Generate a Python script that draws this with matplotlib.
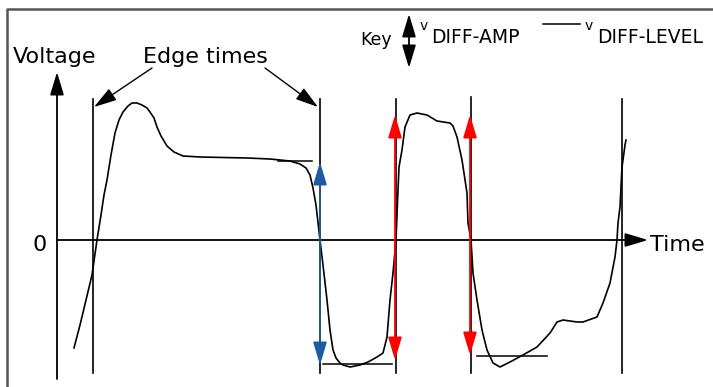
import matplotlib
matplotlib.use("Agg")
import matplotlib.pyplot as plt

# ---- data (pixel-space diagram coordinates) ----
wave_x = [74, 80, 86, 92, 97, 101, 104, 107, 111, 115, 119, 123, 128, 132, 137, 142, 147, 150,
          154, 157, 161, 167, 174, 183, 200, 247, 270, 290, 300, 306, 310, 313, 316, 320, 323,
          327, 330, 333, 336, 340, 343, 350, 360, 368, 377, 383, 387, 390, 393, 396, 398, 399,
          402, 405, 410, 417, 427, 437, 450, 453, 457, 462, 467, 468, 471, 473, 477, 482, 487,
          493, 500, 510, 523, 537, 550, 557, 563, 577, 583, 597, 603, 610, 615, 617, 618, 620,
          622, 623, 625, 626]
wave_y = [348, 325, 300, 275, 240, 215, 195, 180, 155, 133, 120, 112, 106, 103, 103, 105, 108, 112,
          118, 127, 136, 146, 152, 156, 157, 158, 159, 161, 164, 168, 175, 188, 205, 240, 265,
          300, 330, 350, 358, 363, 365, 367, 365, 362, 357, 353, 337, 300, 273, 240, 190, 167,
          150, 127, 115, 113, 115, 121, 123, 126, 137, 160, 193, 223, 240, 273, 300, 330, 350,
          363, 367, 362, 355, 347, 333, 322, 320, 322, 322, 317, 303, 283, 257, 240, 223, 207,
          167, 160, 145, 140]

edge_x = [93, 320, 396, 471, 622]
edge_top = [99, 99, 99, 97, 99]
edge_bottom = 373

level_x0 = [278, 323, 477]
level_x1 = [312, 392, 547]
level_y = [161, 364, 356]

amp_x = [320, 395, 470]
amp_top = [162, 115, 115]
amp_bottom = [365, 360, 355]
amp_colors = ["#1f5aa6", "#ff0000", "#ff0000"]

fig = plt.figure(figsize=(7.13, 3.87), dpi=100)
ax = fig.add_axes([0, 0, 1, 1])
ax.set_xlim(0, 713)
ax.set_ylim(387, 0)
ax.axis("off")

FONT = "DejaVu Sans"
HEAD = "head_length=1.0,head_width=0.3"

# frame
ax.plot([7, 7, 713], [387, 9, 9], color="#555555", lw=1.8, solid_capstyle="butt")

# axes
ax.annotate("", xy=(57, 72), xytext=(57, 379),
            arrowprops=dict(arrowstyle="-|>," + HEAD, color="black",
                            lw=1.3, shrinkA=0, shrinkB=0, mutation_scale=14))
ax.annotate("", xy=(648, 240), xytext=(57, 240),
            arrowprops=dict(arrowstyle="-|>," + HEAD, color="black",
                            lw=1.3, shrinkA=0, shrinkB=0, mutation_scale=14))

# edge lines
for x, t in zip(edge_x, edge_top):
    ax.plot([x, x], [t, edge_bottom], color="black", lw=1.2)

# level lines
for x0, x1, y in zip(level_x0, level_x1, level_y):
    ax.plot([x0, x1], [y, y], color="black", lw=1.1)

# waveform
ax.plot(wave_x, wave_y, color="black", lw=1.2)

# amplitude arrows
for x, t, b, c in zip(amp_x, amp_top, amp_bottom, amp_colors):
    ax.annotate("", xy=(x, t), xytext=(x, b),
                arrowprops=dict(arrowstyle="<|-|>," + HEAD, color=c,
                                lw=1.3, shrinkA=0, shrinkB=0, mutation_scale=14))

# edge-time pointers
ax.annotate("", xy=(94, 107), xytext=(152, 68),
            arrowprops=dict(arrowstyle="-|>," + HEAD, color="black",
                            lw=1.0, shrinkA=0, shrinkB=0, mutation_scale=14))
ax.annotate("", xy=(318, 107), xytext=(265, 68),
            arrowprops=dict(arrowstyle="-|>," + HEAD, color="black",
                            lw=1.0, shrinkA=0, shrinkB=0, mutation_scale=14))

# texts
ax.text(13, 63, "Voltage", fontsize=16, family=FONT, va="baseline", ha="left")
ax.text(143, 63, "Edge times", fontsize=16, family=FONT, va="baseline", ha="left")
ax.text(40, 251, "0", fontsize=16, family=FONT, va="baseline", ha="center")
ax.text(650, 251, "Time", fontsize=16, family=FONT, va="baseline", ha="left")

# key
ax.text(360, 45, "Key", fontsize=12.5, family=FONT, va="baseline", ha="left")
ax.annotate("", xy=(409, 14), xytext=(409, 68),
            arrowprops=dict(arrowstyle="<|-|>," + HEAD, color="black",
                            lw=1.3, shrinkA=0, shrinkB=0, mutation_scale=14))
ax.text(420, 30, "v", fontsize=10, family=FONT, va="baseline", ha="left")
ax.text(431, 43, "DIFF-AMP", fontsize=13.5, family=FONT, va="baseline", ha="left")
ax.plot([543, 580], [24, 24], color="black", lw=1.1)
ax.text(585, 30, "v", fontsize=10, family=FONT, va="baseline", ha="left")
ax.text(597, 43, "DIFF-LEVEL", fontsize=13.5, family=FONT, va="baseline", ha="left")

fig.savefig("out.png", dpi=100)
